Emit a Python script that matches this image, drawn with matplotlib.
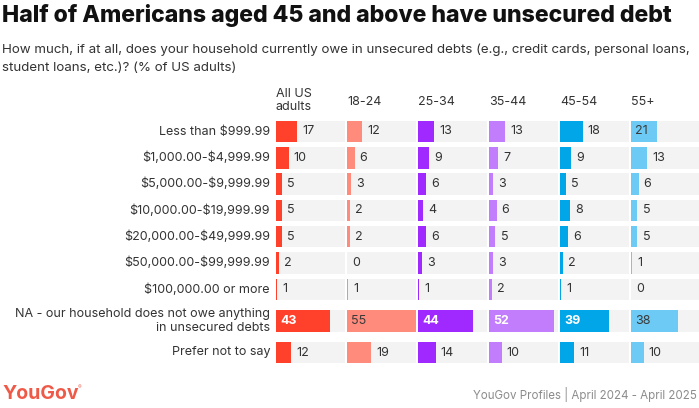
"""YouGov: unsecured household debt by age group."""
import matplotlib.pyplot as plt

plt.rcParams["font.family"] = ["Inter", "DejaVu Sans"]
plt.rcParams["text.parse_math"] = False

categories = [
    "Less than $999.99",
    "$1,000.00-$4,999.99",
    "$5,000.00-$9,999.99",
    "$10,000.00-$19,999.99",
    "$20,000.00-$49,999.99",
    "$50,000.00-$99,999.99",
    "$100,000.00 or more",
    "NA - our household does not owe anything\nin unsecured debts",
    "Prefer not to say",
]
groups = ["All US\nadults", "18-24", "25-34", "35-44", "45-54", "55+"]

all_us = [17, 10, 5, 5, 5, 2, 1, 43, 12]
age_18_24 = [12, 6, 3, 2, 2, 0, 1, 55, 19]
age_25_34 = [13, 9, 6, 4, 6, 3, 1, 44, 14]
age_35_44 = [13, 7, 3, 6, 5, 3, 2, 52, 10]
age_45_54 = [18, 9, 5, 8, 6, 2, 1, 39, 11]
age_55_plus = [21, 13, 6, 5, 5, 1, 0, 38, 10]
series = [all_us, age_18_24, age_25_34, age_35_44, age_45_54, age_55_plus]

colors = ["#ff412c", "#ff8b7c", "#9f29ff", "#c17dfb", "#00a6e8", "#6ccaf5"]
inside_text = [("white", "bold"), ("#3a3a3a", "normal"), ("white", "bold"),
               ("white", "bold"), ("white", "bold"), ("#3a3a3a", "normal")]

W, H = 699, 408
row_y = [131.5, 157.8, 184.1, 210.4, 236.7, 263.0, 289.3, 321.0, 352.5]
bar_h = 21.5
xmax = 55

fig = plt.figure(figsize=(W / 100, H / 100), dpi=100)

fig.text(2 / W, 1 - 22 / H, "Half of Americans aged 45 and above have unsecured debt",
         fontsize=16.6, fontweight="heavy", color="#111111", va="baseline")
fig.text(2 / W, 1 - 53 / H,
         "How much, if at all, does your household currently owe in unsecured debts (e.g., credit cards, personal loans,",
         fontsize=9.6, color="#333333", va="baseline")
fig.text(2 / W, 1 - 71 / H, "student loans, etc.)? (% of US adults)",
         fontsize=9.6, color="#333333", va="baseline")

for y, cat in zip(row_y, categories):
    fig.text(270 / W, 1 - y / H, cat, fontsize=9, color="#333333",
             ha="right", va="center", multialignment="right", linespacing=1.2)

for i, (name, vals, col) in enumerate(zip(groups, series, colors)):
    left = 276 + 71 * i
    ax = fig.add_axes([left / W, 0, xmax * 1.25 / W, 1])
    ax.set_xlim(0, xmax)
    ax.set_ylim(H, 0)
    ax.axis("off")
    ax.barh(row_y, [xmax] * len(row_y), height=bar_h, color="#f3f3f3")
    ax.barh(row_y, vals, height=bar_h, color=col)
    if "\n" in name:
        ax.text(0, 110, name, fontsize=9, color="#333333", va="baseline",
                linespacing=1.1)
    else:
        ax.text(0, 105, name, fontsize=9, color="#333333", va="baseline")
    tc, tw = inside_text[i]
    for y, v in zip(row_y, vals):
        if v >= 20:
            ax.text(3.2, y, str(v), fontsize=9, color=tc, fontweight=tw,
                    va="center", ha="left")
        else:
            ax.text(v + 4.2, y, str(v), fontsize=9, color="#333333",
                    va="center", ha="left")

fig.text(2 / W, 1 - 399 / H, "YouGov", fontsize=14, fontweight="bold",
         color="#ee5a47", va="baseline")
fig.text(78 / W, 1 - 389 / H, "\u00ae", fontsize=4, color="#ee5a47", va="baseline")
fig.text(697 / W, 1 - 399 / H, "YouGov Profiles | April 2024 - April 2025",
         fontsize=8.3, color="#8c8c8c", ha="right", va="baseline")

fig.savefig("out.png", dpi=100)
